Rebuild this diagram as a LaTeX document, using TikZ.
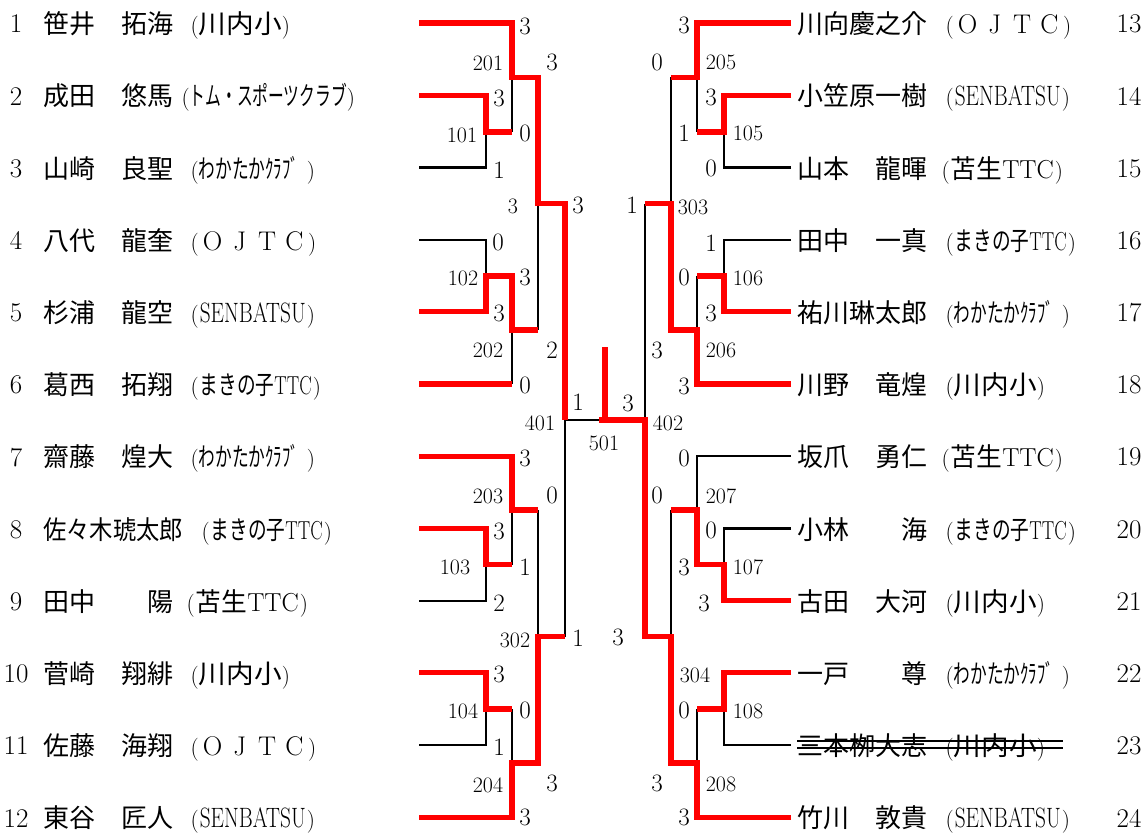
\documentclass[tikz,border=0pt]{standalone}
\usepackage{fontspec}
\usepackage{graphicx}
\newfontfamily\jp{Noto Sans CJK JP}
\newcommand{\fw}[2]{\resizebox{#1pt}{\height}{#2}}
\newcommand{\clKAW}{(\fw{83}{\jp\fontsize{26}{26}\selectfont 川内小})}
\newcommand{\clTOM}{(\fw{157}{\jp\fontsize{26}{26}\selectfont トム・スポーツクラブ})}
\newcommand{\clWAK}{(\fw{100}{\jp\fontsize{26}{26}\selectfont わかたかｸﾗﾌﾞ}\hspace{8pt})}
\newcommand{\clSEN}{(\hspace{1pt}\fw{106}{\fontsize{28}{28}\selectfont SENBATSU}\hspace{1pt})}
\newcommand{\clMAK}{(\hspace{1pt}\fw{112}{\fontsize{26}{26}\selectfont{\jp まきの子}TTC}\hspace{1pt})}
\newcommand{\clTMK}{(\hspace{1pt}\fw{103}{\fontsize{26}{26}\selectfont{\jp 苫生}TTC}\hspace{1pt})}
\newcommand{\clOJ}{({\fontsize{27}{27}\selectfont\makebox[27.3pt]{O}\makebox[27.3pt]{J}\makebox[27.3pt]{T}\makebox[27.3pt]{C}})}
\tikzset{
  blk/.style={draw=black, line width=2.2pt},
  win/.style={draw=red, line width=5.2pt, line join=miter},
  sc/.style={inner sep=0pt, font=\fontsize{25}{25}\selectfont},
  mn/.style={inner sep=0pt, font=\fontsize{22}{22}\selectfont},
  pn/.style={inner sep=0pt, font=\fontsize{27}{27}\selectfont},
  nm/.style={inner sep=0pt, anchor=base west, font=\jp\fontsize{26}{26}\selectfont},
  cl/.style={inner sep=0pt, anchor=base west, font=\fontsize{23}{23}\selectfont},
}
\begin{document}
\begin{tikzpicture}[x=1pt,y=-1pt]
\useasboundingbox (0,0) rectangle (1145,832);
% ---------- black (lost) lines, left ----------
\draw[blk] (419,167.4) -- (486,167.4) -- (486,132);
\draw[blk] (512,77.5) -- (512,132);
\draw[blk] (419,239.6) -- (486,239.6) -- (486,276);
\draw[blk] (512,330) -- (512,384);
\draw[blk] (538,203.7) -- (538,330);
\draw[blk] (565,420) -- (565,636.5);
\draw[blk] (565,420) -- (601,420);
\draw[blk] (419,600.6) -- (486,600.6) -- (486,564.5);
\draw[blk] (512,510) -- (512,564.5);
\draw[blk] (538,510) -- (538,636.5);
\draw[blk] (419,745) -- (486,745) -- (486,709);
\draw[blk] (512,709) -- (512,763);
% ---------- black (lost) lines, right ----------
\draw[blk] (791,167.4) -- (724,167.4) -- (724,132);
\draw[blk] (697,77.5) -- (697,132);
\draw[blk] (791,239.6) -- (724,239.6) -- (724,276);
\draw[blk] (697,276) -- (697,330);
\draw[blk] (671,77.5) -- (671,203.7);
\draw[blk] (645,203.7) -- (645,420);
\draw[blk] (791,456.2) -- (697,456.2) -- (697,510);
\draw[blk] (791,528.4) -- (724,528.4) -- (724,564.5);
\draw[blk] (671,510) -- (671,636.5);
\draw[blk] (791,745) -- (724,745) -- (724,709);
\draw[blk] (697,709) -- (697,763);
% ---------- red (won) lines, left ----------
\draw[win] (419,23) -- (512,23) -- (512,77.5) -- (538,77.5) -- (538,203.7) -- (565,203.7) -- (565,420);
\draw[win] (419,95.2) -- (486,95.2) -- (486,132) -- (512,132);
\draw[win] (419,311.8) -- (486,311.8) -- (486,276) -- (512,276) -- (512,330) -- (538,330);
\draw[win] (419,384) -- (512,384);
\draw[win] (419,456.2) -- (512,456.2) -- (512,510) -- (538,510);
\draw[win] (419,528.4) -- (486,528.4) -- (486,564.5) -- (512,564.5);
\draw[win] (419,672.8) -- (486,672.8) -- (486,709) -- (512,709);
\draw[win] (419,817.2) -- (512,817.2) -- (512,763) -- (538,763) -- (538,636.5) -- (565,636.5);
% ---------- red (won) lines, right ----------
\draw[win] (791,23) -- (697,23) -- (697,77.5) -- (671,77.5);
\draw[win] (791,95.2) -- (724,95.2) -- (724,132) -- (697,132);
\draw[win] (791,311.8) -- (724,311.8) -- (724,276) -- (697,276);
\draw[win] (791,384) -- (697,384) -- (697,330) -- (671,330) -- (671,203.7) -- (645,203.7);
\draw[win] (791,600.6) -- (724,600.6) -- (724,564.5) -- (697,564.5) -- (697,510) -- (671,510);
\draw[win] (791,672.8) -- (724,672.8) -- (724,709) -- (697,709);
\draw[win] (791,817.2) -- (697,817.2) -- (697,763) -- (671,763) -- (671,636.5) -- (645,636.5) -- (645,420) -- (599,420);
\draw[win] (605,420) -- (605,347);
% ---------- scores ----------
\foreach \x/\y/\t [count=\i] in {
525/26/3, 552/62/3, 499/98/3, 525/133/0, 499/170/1, 578/205/3, 498/242/0, 525/277/3,
499/313/3, 552/350/2, 525/385/0, 578/402/1, 525/458/3, 552/495/0, 499/531/3, 525/567/1,
499/603/2, 578/638/1, 499/674/3, 525/710/0, 499/747/1, 552/783/3, 525/817/3,
684/25/3, 657/62/0, 711/97/3, 684/133/1, 711/168/0, 632/205/1, 711/243/1, 684/277/0,
711/313/3, 657/350/3, 684/386/3, 628/403/3, 684/458/0, 657/495/0, 711/530/0, 684/567/3,
704/603/3, 618/637/3, 684/710/0, 657/783/3, 684/817/3}
  \node[sc] (s\i) at (\x,\y) {\t};
% ---------- match numbers ----------
\foreach \x/\y/\t [count=\i] in {
488/63/201, 462/135/101, 513/206/3, 463/278/102, 488/350/202, 540/423/401, 488/496/203,
455/567/103, 515/640/302, 463/711/104, 488/785/204, 604/443/501,
721/62/205, 748/133/105, 693/207/303, 748/278/106, 721/350/206, 668/423/402, 721/496/207,
748/567/107, 695/675/304, 748/711/108, 721/784/208}
  \node[mn] (m\i) at (\x,\y) {\t};
% ---------- players, left ----------
\foreach \i/\nm/\cl/\cx in {
1/笹井　拓海/\clKAW/192,
2/成田　悠馬/\clTOM/183,
3/山崎　良聖/\clWAK/192,
4/八代　龍奎/\clOJ/192,
5/杉浦　龍空/\clSEN/192,
6/葛西　拓翔/\clMAK/192,
7/齋藤　煌大/\clWAK/192,
8/{\fw{140}{佐々木琥太郎}}/\clMAK/203,
9/田中　　陽/\clTMK/188,
10/菅崎　翔緋/\clKAW/192,
11/佐藤　海翔/\clOJ/192,
12/東谷　匠人/\clSEN/192}{
  \pgfmathsetmacro\yy{23+(\i-1)*72.2}
  \node[pn] (pl\i) at (16,\yy+1) {\i};
  \node[nm] (nl\i) at (43,\yy+10.6) {\nm};
  \node[cl] (cl\i) at (\cx-1.5,\yy+10.6) {\cl};
}
% ---------- players, right ----------
\foreach \i/\nm/\cl/\cx in {
13/川向慶之介/\clOJ/947,
14/小笠原一樹/\clSEN/947,
15/山本　龍暉/\clTMK/943,
16/田中　一真/\clMAK/947,
17/祐川琳太郎/\clWAK/947,
18/川野　竜煌/\clKAW/947,
19/坂爪　勇仁/\clTMK/943,
20/小林　　海/\clMAK/947,
21/古田　大河/\clKAW/947,
22/一戸　　尊/\clWAK/947,
23/三本栁大志/\clKAW/947,
24/竹川　敦貴/\clSEN/947}{
  \pgfmathsetmacro\yy{23+(\i-13)*72.2}
  \node[pn] (pl\i) at (1129,\yy+1) {\i};
  \node[nm] (nl\i) at (797,\yy+10.6) {\nm};
  \node[cl] (cl\i) at (\cx-1.5,\yy+10.6) {\cl};
}
% strike-through of withdrawn player 23
\draw[line width=2pt] (797,741) -- (1063,741);
\draw[line width=2pt] (797,747.5) -- (1063,747.5);
\end{tikzpicture}
\end{document}
